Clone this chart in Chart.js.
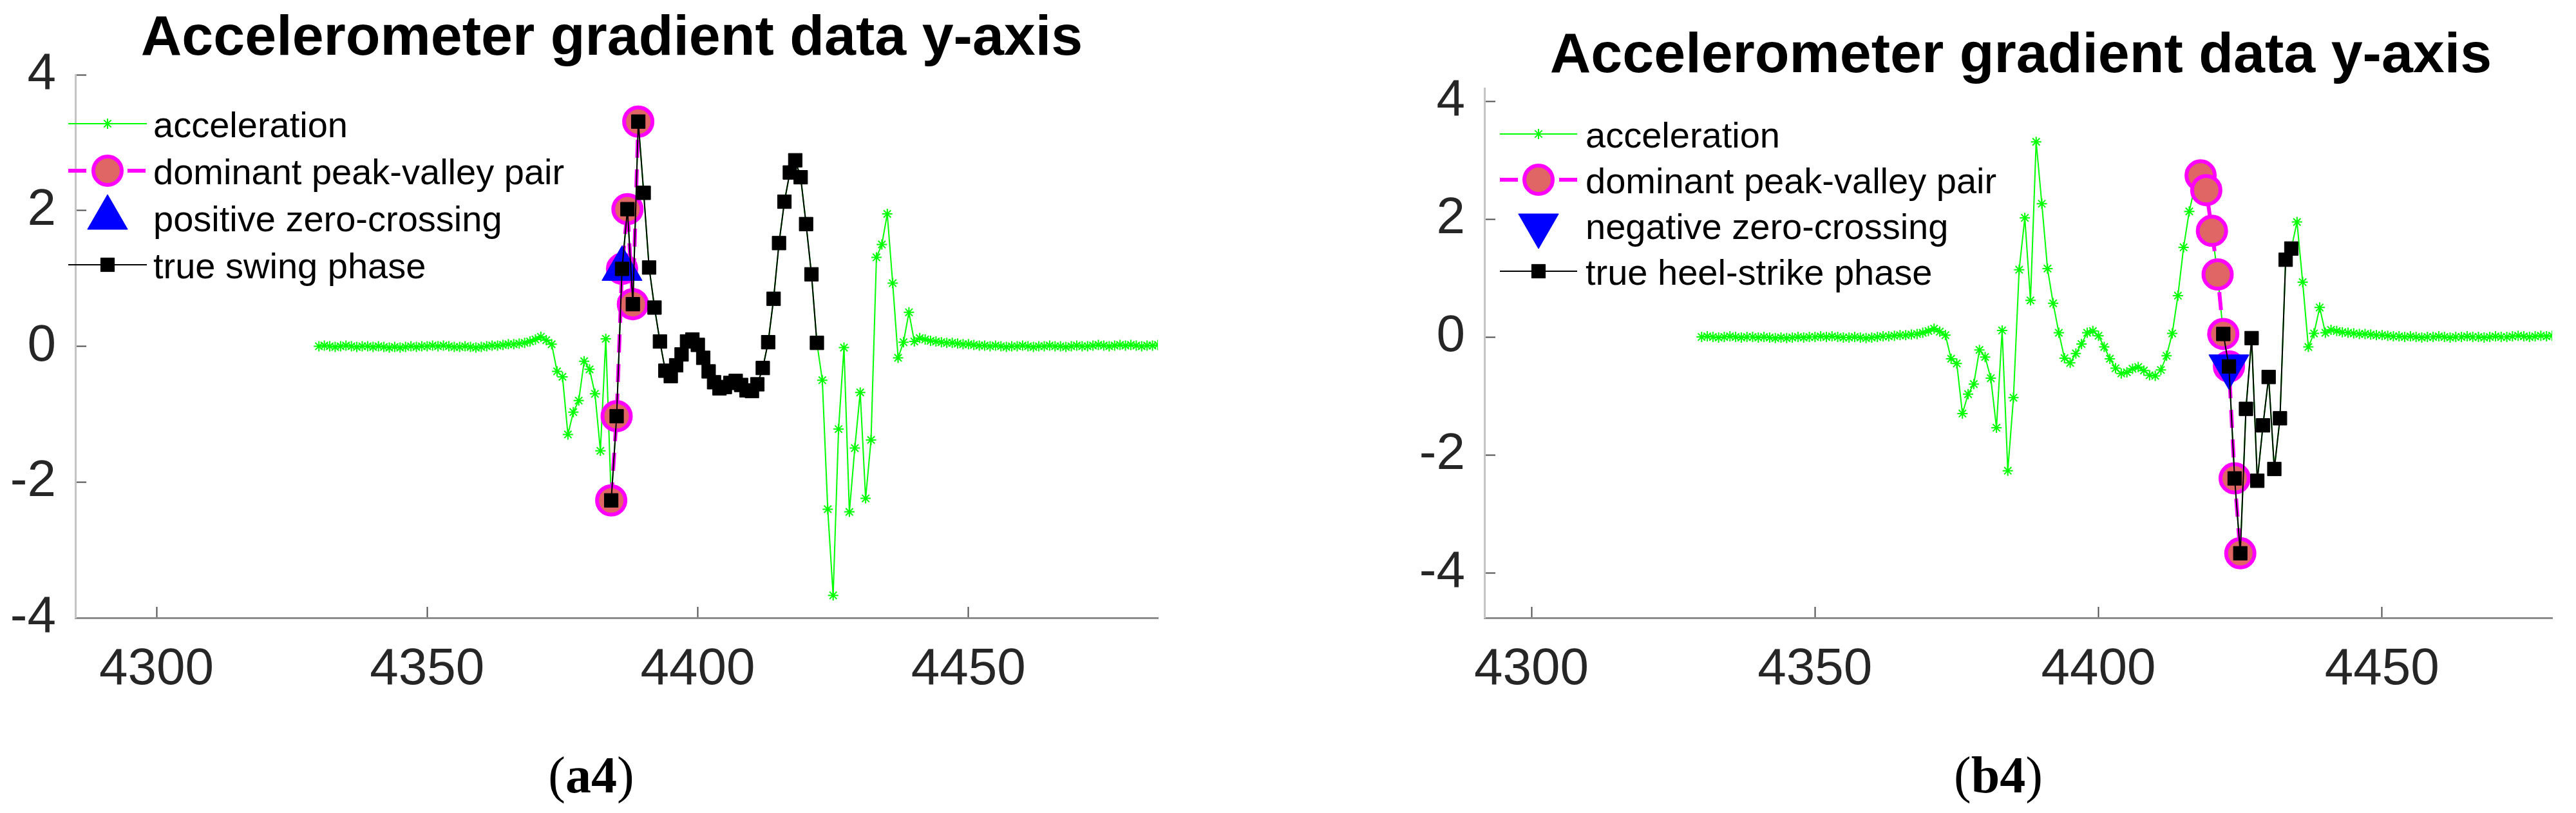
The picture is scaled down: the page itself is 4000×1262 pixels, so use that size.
<!DOCTYPE html>
<html><head><meta charset="utf-8">
<script src="https://cdn.jsdelivr.net/npm/chart.js@4/dist/chart.umd.min.js"></script>
<style>
html,body{margin:0;padding:0;background:#fff;}
#wrap{position:relative;width:4000px;height:1262px;overflow:hidden;background:#fff;}
canvas{position:absolute;top:0;}
.cap{position:absolute;top:1163px;width:240px;text-align:center;font-family:"Liberation Serif","Times New Roman",serif;font-size:80px;line-height:1;color:#000;}
.cap b{font-weight:bold;}
</style></head>
<body><div id="wrap">
<canvas id="ca" width="2000" height="1262" style="left:0"></canvas>
<canvas id="cb" width="2000" height="1262" style="left:2000px"></canvas>
<div class="cap" style="left:798px">(<b>a4</b>)</div>
<div class="cap" style="left:2983px">(<b>b4</b>)</div>
</div>
<script>
// ---------------- data ----------------
const titleText = 'Accelerometer gradient data y-axis';
const sampleStart = 4330;   // first sample index of the acceleration trace
const acceleration = [
  0.00, 0.01, 0.00, -0.01, 0.00, 0.01, 0.00, -0.01, 0.00, 0.00,
  -0.01, 0.00, -0.01, -0.02, -0.01, -0.02, -0.01, 0.00, -0.01, 0.00,
  0.00, 0.01, 0.00, 0.01, 0.00, -0.01, -0.01, 0.00, -0.01, -0.02,
  -0.01, 0.00, 0.01, 0.01, 0.02, 0.03, 0.03, 0.04, 0.05, 0.07,
  0.10, 0.14, 0.09, 0.03, -0.37, -0.45, -1.30, -0.97, -0.80, -0.22,
  -0.34, -0.70, -1.54, 0.11, -2.27, -1.03, 1.14, 2.02, 0.62, 3.31,
  2.26, 1.16, 0.57, 0.07, -0.36, -0.44, -0.28, -0.12, 0.07, 0.10,
  0.02, -0.17, -0.37, -0.53, -0.62, -0.60, -0.54, -0.51, -0.57, -0.65,
  -0.66, -0.56, -0.32, 0.06, 0.70, 1.52, 2.13, 2.56, 2.74, 2.49,
  1.80, 1.06, 0.05, -0.50, -2.40, -3.67, -1.22, -0.02, -2.44, -1.50,
  -0.68, -2.24, -1.38, 1.31, 1.50, 1.95, 0.93, -0.17, 0.06, 0.50,
  0.07, 0.12, 0.10, 0.08, 0.07, 0.06, 0.05, 0.05, 0.04, 0.03,
  0.03, 0.02, 0.01, 0.01, 0.00, 0.01, 0.00, -0.01, 0.00, 0.00,
  0.01, 0.00, -0.01, 0.00, 0.00, 0.01, 0.00, 0.00, -0.01, 0.00,
  0.01, 0.00, 0.00, 0.01, 0.02, 0.01, 0.00, 0.01, 0.02, 0.01,
  0.02, 0.01, 0.00, 0.01, 0.01, 0.02
];
// panel (a4): swing phase
const pairSamplesA = [4384, 4385, 4386, 4387, 4388, 4389];
const zeroCrossA = [4386];
const swingSamples = [4384, 4385, 4386, 4387, 4388, 4389, 4390, 4391, 4392, 4393,
  4394, 4395, 4396, 4397, 4398, 4399, 4400, 4401, 4402, 4403, 4404, 4405, 4406,
  4407, 4408, 4409, 4410, 4411, 4412, 4413, 4414, 4415, 4416, 4417, 4418, 4419,
  4420, 4421, 4422];
// panel (b4): heel-strike phase
const pairSamplesB = [4418, 4419, 4420, 4421, 4422, 4423, 4424, 4425];
const zeroCrossB = [4423];
const heelSamples = [4422, 4423, 4424, 4425, 4426, 4427, 4428, 4429, 4430, 4431, 4432, 4433, 4434];

const xTickValues = [4300, 4350, 4400, 4450];
const yTickValues = [-4, -2, 0, 2, 4];
const legendA = ['acceleration', 'dominant peak-valley pair', 'positive zero-crossing', 'true swing phase'];
const legendB = ['acceleration', 'dominant peak-valley pair', 'negative zero-crossing', 'true heel-strike phase'];

// ---------------- helpers ----------------
const valueAt = s => acceleration[s - sampleStart];
const pts = samples => samples.map(s => ({x: s, y: valueAt(s)}));
const accelPts = acceleration.map((v, i) => ({x: sampleStart + i, y: v}));

function datasets(labels, pairS, zeroS, phaseS, triRot) {
  return [
    {label: labels[0], data: accelPts, borderColor: '#00ff00', borderWidth: 2,
     pointStyle: 'star', pointRadius: 8, pointBorderWidth: 2, pointBorderColor: '#00ff00',
     pointBackgroundColor: '#00ff00', showLine: true, order: 4},
    {label: labels[1], data: pts(pairS), borderColor: '#ff00ff', borderWidth: 6, borderDash: [28, 18],
     pointStyle: 'circle', pointRadius: 22, pointBorderWidth: 6, pointBorderColor: '#ff00ff',
     pointBackgroundColor: '#e06666', showLine: true, order: 3},
    {label: labels[2], data: pts(zeroS), showLine: false, borderColor: '#0000ff',
     pointStyle: 'triangle', pointRotation: triRot, pointRadius: 36, pointBorderWidth: 1,
     pointBorderColor: '#0000ff', pointBackgroundColor: '#0000ff', order: 2},
    {label: labels[3], data: pts(phaseS), borderColor: '#000000', borderWidth: 2,
     pointStyle: 'rect', pointRadius: 15, pointBorderWidth: 1, pointBorderColor: '#000000',
     pointBackgroundColor: '#000000', showLine: true, order: 1}
  ];
}

const overlayPlugin = {
  id: 'overlay',
  afterDraw(chart, args, o) {
    const ctx = chart.ctx;
    ctx.save();
    ctx.font = 'bold 88px "Liberation Sans", Arial, sans-serif';
    ctx.fillStyle = '#000';
    ctx.textAlign = 'center';
    ctx.textBaseline = 'alphabetic';
    ctx.fillText(o.title, o.titleX, o.titleY);
    chart.data.datasets.forEach((ds, i) => {
      const y = o.rows[i];
      if (ds.showLine !== false) {
        ctx.setLineDash(ds.borderDash || []);
        ctx.lineWidth = ds.borderWidth;
        ctx.strokeStyle = ds.borderColor;
        ctx.beginPath(); ctx.moveTo(o.lineX0, y); ctx.lineTo(o.lineX1, y); ctx.stroke();
      }
      ctx.setLineDash([]);
      ctx.fillStyle = ds.pointBackgroundColor;
      ctx.strokeStyle = ds.pointBorderColor;
      ctx.lineWidth = ds.pointBorderWidth;
      Chart.helpers.drawPoint(ctx, {pointStyle: ds.pointStyle, rotation: ds.pointRotation || 0,
        radius: ds.pointRadius, borderWidth: ds.pointBorderWidth}, o.markerX, y);
      ctx.font = '56px "Liberation Sans", Arial, sans-serif';
      ctx.fillStyle = '#000';
      ctx.textAlign = 'left';
      ctx.fillText(ds.label, o.textX, y + 21);
    });
    ctx.restore();
  }
};

function makeChart(id, cfg) {
  const W = 2000, H = 1262, a = cfg.area;
  return new Chart(document.getElementById(id), {
    type: 'line',
    data: {datasets: cfg.datasets},
    plugins: [overlayPlugin],
    options: {
      responsive: false, animation: false, events: [], devicePixelRatio: 1,
      layout: {padding: {left: 0, top: a.top, right: W - a.right, bottom: 0}},
      plugins: {legend: {display: false}, title: {display: false}, tooltip: {enabled: false},
        overlay: cfg.overlay},
      elements: {line: {tension: 0}},
      scales: {
        x: {type: 'linear', position: 'bottom', min: cfg.xMin, max: cfg.xMax,
          afterBuildTicks: s => { s.ticks = xTickValues.map(v => ({value: v})); },
          afterFit: s => { s.height = H - a.bottom; },
          grid: {drawOnChartArea: false, drawTicks: true, tickLength: -17, tickWidth: 2, tickColor: '#4d4d4d'},
          border: {display: true, color: '#8c8c8c', width: 3},
          ticks: {padding: 50, color: '#262626', maxRotation: 0, autoSkip: false,
            font: {family: '"Liberation Sans", Arial, sans-serif', size: 80},
            callback: v => String(v)}},
        y: {type: 'linear', position: 'left', min: cfg.yMin, max: cfg.yMax,
          afterBuildTicks: s => { s.ticks = yTickValues.map(v => ({value: v})); },
          afterFit: s => { s.width = a.left; },
          grid: {drawOnChartArea: false, drawTicks: true, tickLength: -17, tickWidth: 2, tickColor: '#4d4d4d'},
          border: {display: true, color: '#c4c4c4', width: 3},
          ticks: {padding: 47, color: '#262626', autoSkip: false,
            font: {family: '"Liberation Sans", Arial, sans-serif', size: 80},
            callback: v => String(v)}}
      }
    }
  });
}

makeChart('ca', {
  area: {left: 117, top: 116, right: 1798, bottom: 959},
  xMin: 4285, xMax: 4485, yMin: -4, yMax: 4,
  datasets: datasets(legendA, pairSamplesA, zeroCrossA, swingSamples, 0),
  overlay: {title: titleText, titleX: 950, titleY: 85,
    lineX0: 106, lineX1: 228, markerX: 167, textX: 238, rows: [192, 265, 338, 411]}
});
makeChart('cb', {
  area: {left: 305, top: 137, right: 1983, bottom: 959},
  xMin: 4291.7, xMax: 4480, yMin: -4.765, yMax: 4.219,
  datasets: datasets(legendB, pairSamplesB, zeroCrossB, heelSamples, 180),
  overlay: {title: titleText, titleX: 1138, titleY: 112,
    lineX0: 329, lineX1: 449, markerX: 389, textX: 462, rows: [208, 279, 350, 421]}
});
</script>
</body></html>
